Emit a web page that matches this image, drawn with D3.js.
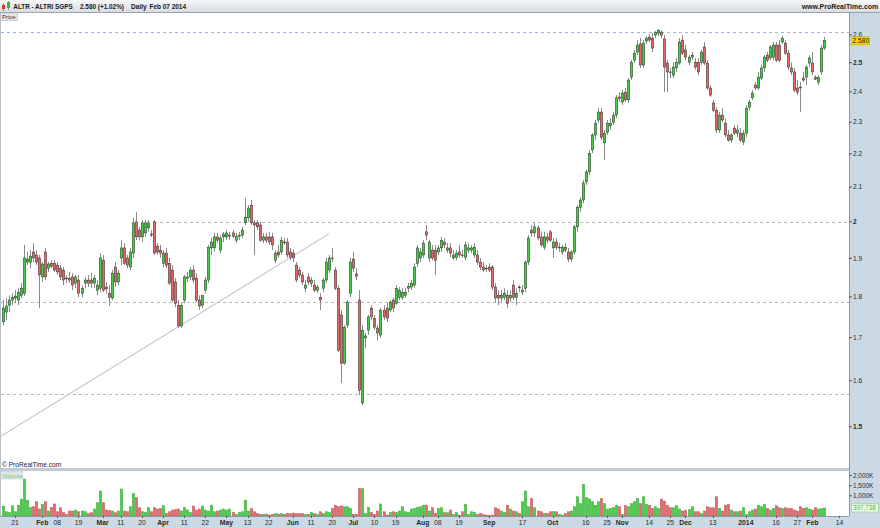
<!DOCTYPE html>
<html><head><meta charset="utf-8">
<script src="https://cdn.jsdelivr.net/npm/d3@7"></script>
<style>
html,body{margin:0;padding:0;background:#fff;}
svg{display:block;font-family:"Liberation Sans",Arial,sans-serif;}
</style></head><body>
<svg id="chart" width="880" height="528"></svg>
<script>
// ---------------- DATA ----------------
const firstDate = "2013-01-15";
const lastDate = "2014-02-07";
const holidays = ["2013-03-29","2013-04-01","2013-05-01","2013-12-25","2013-12-26","2014-01-01"];

const open = [
1.738,1.762,1.779,1.792,1.797,1.792,1.804,1.809,1.890,1.890,
1.917,1.909,1.901,1.851,1.917,1.874,1.887,1.887,1.882,1.874,
1.869,1.848,1.848,1.851,1.835,1.843,1.809,1.835,1.843,1.843,
1.835,1.817,1.822,1.895,1.825,1.809,1.797,1.877,1.838,1.901,
1.928,1.901,1.877,1.914,2.000,1.977,1.958,1.969,1.983,1.966,
2.000,1.933,1.922,1.887,1.914,1.887,1.869,1.838,1.779,1.728,
1.792,1.848,1.851,1.869,1.848,1.792,1.779,1.817,1.843,1.928,
1.928,1.958,1.922,1.958,1.958,1.960,1.969,1.949,1.960,1.963,
1.997,2.011,2.047,1.997,1.997,1.991,1.949,1.958,1.958,1.958,
1.895,1.917,1.917,1.944,1.944,1.917,1.914,1.882,1.869,1.856,
1.822,1.851,1.835,1.830,1.817,1.799,1.822,1.843,1.869,1.901,
1.869,1.822,1.755,1.640,1.730,1.809,1.898,1.859,1.792,1.551,
1.699,1.718,1.772,1.747,1.723,1.706,1.767,1.772,1.767,1.792,
1.784,1.799,1.799,1.804,1.822,1.825,1.830,1.887,1.901,1.909,
1.972,1.901,1.922,1.922,1.917,1.928,1.944,1.922,1.928,1.901,
1.903,1.917,1.909,1.903,1.922,1.922,1.909,1.909,1.890,1.877,
1.874,1.877,1.877,1.825,1.804,1.797,1.799,1.804,1.797,1.830,
1.799,1.825,1.812,1.822,1.890,1.977,1.969,1.983,1.958,1.930,
1.958,1.972,1.928,1.944,1.928,1.917,1.930,1.917,1.898,1.917,
1.986,2.041,2.062,2.115,2.145,2.212,2.259,2.307,2.333,2.234,
2.268,2.288,2.300,2.323,2.383,2.366,2.399,2.373,2.450,2.509,
2.538,2.567,2.492,2.577,2.592,2.588,2.599,2.606,2.610,2.585,
2.499,2.468,2.457,2.482,2.499,2.581,2.545,2.502,2.520,2.502,
2.502,2.502,2.556,2.499,2.413,2.363,2.339,2.275,2.323,2.297,
2.259,2.243,2.281,2.265,2.265,2.237,2.265,2.349,2.380,2.423,
2.413,2.447,2.482,2.527,2.517,2.520,2.563,2.563,2.574,2.570,
2.534,2.482,2.468,2.413,2.416,2.447,2.450,2.499,2.499,2.450,
2.433,2.468,2.552];

const high = [
1.792,1.797,1.804,1.809,1.817,1.822,1.835,1.936,1.917,1.922,
1.941,1.922,1.909,1.890,1.928,1.890,1.895,1.895,1.890,1.882,
1.877,1.856,1.864,1.861,1.856,1.856,1.830,1.851,1.856,1.861,
1.856,1.843,1.914,1.909,1.838,1.830,1.869,1.890,1.869,1.949,
1.941,1.909,1.928,2.011,2.027,1.986,2.005,2.005,2.005,1.977,
2.005,1.941,1.936,1.922,1.928,1.901,1.882,1.848,1.792,1.784,
1.856,1.864,1.877,1.882,1.861,1.804,1.797,1.851,1.936,1.955,
1.969,1.969,1.963,1.972,1.977,1.972,1.977,1.969,1.972,1.986,
2.068,2.047,2.062,2.005,2.005,2.000,1.969,1.969,1.972,1.969,
1.922,1.936,1.958,1.955,1.955,1.928,1.922,1.890,1.877,1.864,
1.843,1.861,1.851,1.843,1.830,1.809,1.848,1.901,1.909,1.928,
1.877,1.830,1.767,1.730,1.792,1.901,1.917,1.874,1.817,1.730,
1.711,1.755,1.779,1.755,1.730,1.772,1.779,1.784,1.792,1.799,
1.830,1.825,1.822,1.822,1.835,1.843,1.887,1.936,1.928,1.949,
1.991,1.949,1.936,1.936,1.936,1.958,1.955,1.941,1.941,1.922,
1.922,1.936,1.922,1.944,1.941,1.936,1.941,1.922,1.901,1.890,
1.882,1.887,1.882,1.835,1.817,1.817,1.822,1.817,1.817,1.843,
1.822,1.830,1.830,1.895,1.963,1.991,1.997,1.991,1.972,1.972,
1.969,1.977,1.955,1.955,1.941,1.936,1.941,1.928,1.922,1.991,
2.047,2.070,2.121,2.151,2.212,2.265,2.307,2.346,2.346,2.275,
2.307,2.313,2.333,2.389,2.399,2.406,2.413,2.447,2.509,2.545,
2.581,2.588,2.581,2.595,2.603,2.606,2.613,2.620,2.617,2.599,
2.509,2.482,2.502,2.517,2.588,2.599,2.563,2.527,2.538,2.517,
2.517,2.545,2.574,2.509,2.423,2.373,2.349,2.333,2.346,2.313,
2.275,2.265,2.291,2.291,2.281,2.275,2.356,2.373,2.406,2.433,
2.468,2.492,2.527,2.538,2.563,2.574,2.574,2.581,2.595,2.581,
2.545,2.502,2.482,2.440,2.433,2.468,2.492,2.527,2.538,2.457,
2.457,2.563,2.592];

const low = [
1.730,1.742,1.762,1.779,1.784,1.779,1.797,1.802,1.882,1.874,
1.890,1.882,1.772,1.838,1.843,1.864,1.874,1.864,1.856,1.843,
1.830,1.835,1.835,1.817,1.822,1.799,1.799,1.822,1.825,1.822,
1.822,1.804,1.812,1.812,1.809,1.777,1.792,1.825,1.830,1.882,
1.882,1.874,1.869,1.901,1.949,1.949,1.944,1.958,1.972,1.958,
1.909,1.909,1.901,1.877,1.874,1.830,1.787,1.774,1.723,1.723,
1.784,1.838,1.843,1.835,1.787,1.767,1.772,1.809,1.835,1.909,
1.917,1.941,1.914,1.944,1.949,1.949,1.955,1.941,1.949,1.955,
1.991,2.000,1.991,1.909,1.977,1.944,1.941,1.941,1.936,1.922,
1.887,1.901,1.909,1.936,1.901,1.895,1.890,1.838,1.848,1.830,
1.812,1.830,1.825,1.812,1.809,1.767,1.812,1.835,1.861,1.890,
1.817,1.666,1.595,1.636,1.723,1.799,1.864,1.843,1.568,1.546,
1.675,1.706,1.742,1.718,1.694,1.699,1.742,1.738,1.762,1.762,
1.779,1.792,1.792,1.797,1.812,1.817,1.822,1.877,1.890,1.901,
1.949,1.890,1.895,1.856,1.909,1.917,1.928,1.914,1.903,1.895,
1.895,1.901,1.901,1.895,1.914,1.914,1.901,1.882,1.869,1.864,
1.864,1.864,1.817,1.787,1.779,1.787,1.792,1.772,1.787,1.792,
1.779,1.812,1.804,1.812,1.882,1.958,1.958,1.949,1.930,1.922,
1.941,1.944,1.901,1.922,1.917,1.909,1.917,1.890,1.890,1.909,
1.972,2.027,2.053,2.106,2.135,2.202,2.243,2.297,2.243,2.181,
2.259,2.275,2.291,2.313,2.366,2.356,2.366,2.363,2.440,2.499,
2.527,2.482,2.482,2.567,2.574,2.538,2.588,2.595,2.588,2.399,
2.399,2.447,2.447,2.468,2.492,2.527,2.509,2.492,2.509,2.475,
2.457,2.492,2.492,2.406,2.383,2.333,2.265,2.265,2.300,2.252,
2.237,2.234,2.259,2.252,2.237,2.227,2.252,2.339,2.373,2.406,
2.406,2.440,2.468,2.502,2.509,2.509,2.502,2.502,2.567,2.527,
2.475,2.457,2.399,2.389,2.333,2.433,2.423,2.485,2.457,2.440,
2.423,2.457,2.545];

const close = [
1.772,1.777,1.792,1.799,1.802,1.812,1.822,1.901,1.898,1.906,
1.901,1.890,1.856,1.885,1.851,1.885,1.879,1.869,1.864,1.851,
1.843,1.847,1.843,1.830,1.851,1.809,1.822,1.843,1.835,1.835,
1.848,1.830,1.901,1.817,1.820,1.799,1.861,1.838,1.861,1.928,
1.887,1.882,1.917,1.997,1.958,1.958,1.997,1.997,1.997,1.963,
1.914,1.917,1.914,1.914,1.882,1.835,1.792,1.784,1.728,1.779,
1.851,1.851,1.869,1.843,1.792,1.777,1.804,1.843,1.930,1.944,
1.958,1.949,1.955,1.966,1.969,1.963,1.960,1.960,1.963,1.977,
2.013,2.039,1.997,1.991,1.986,1.949,1.958,1.949,1.944,1.936,
1.914,1.909,1.949,1.943,1.909,1.903,1.901,1.843,1.856,1.838,
1.830,1.838,1.843,1.817,1.825,1.792,1.843,1.890,1.901,1.900,
1.822,1.670,1.640,1.725,1.787,1.890,1.874,1.853,1.579,1.718,
1.704,1.750,1.750,1.725,1.711,1.767,1.750,1.747,1.787,1.772,
1.822,1.817,1.812,1.812,1.827,1.835,1.877,1.928,1.917,1.941,
1.963,1.944,1.901,1.895,1.928,1.949,1.936,1.928,1.914,1.909,
1.914,1.909,1.908,1.936,1.928,1.928,1.930,1.890,1.877,1.869,
1.873,1.869,1.825,1.797,1.797,1.804,1.809,1.784,1.804,1.799,
1.809,1.823,1.817,1.890,1.955,1.969,1.986,1.955,1.936,1.958,
1.949,1.949,1.944,1.930,1.930,1.930,1.922,1.898,1.917,1.986,
2.041,2.062,2.112,2.145,2.202,2.259,2.297,2.333,2.252,2.265,
2.297,2.297,2.323,2.380,2.377,2.396,2.373,2.440,2.502,2.534,
2.563,2.492,2.570,2.588,2.581,2.552,2.610,2.617,2.599,2.485,
2.468,2.467,2.485,2.502,2.574,2.534,2.520,2.520,2.527,2.485,
2.468,2.538,2.499,2.413,2.389,2.339,2.275,2.323,2.307,2.259,
2.243,2.259,2.265,2.275,2.243,2.265,2.346,2.366,2.396,2.413,
2.450,2.482,2.520,2.509,2.556,2.563,2.509,2.509,2.588,2.534,
2.485,2.468,2.406,2.399,2.413,2.440,2.485,2.517,2.468,2.443,
2.450,2.552,2.580];

// volume in thousands of shares
const volumeK = [
495,210,180,510,210,540,840,1830,790,430,
460,710,350,580,710,250,430,600,210,410,
180,80,250,250,300,210,250,210,130,160,
350,660,1240,660,300,270,250,160,250,1340,
250,210,460,1120,920,410,210,180,430,210,
410,350,380,510,130,210,300,320,350,250,
430,300,180,500,300,350,500,300,250,540,
210,250,300,350,300,350,180,80,180,210,
790,250,380,210,130,80,80,100,50,80,
120,100,130,90,130,110,150,120,130,130,
80,80,180,130,80,210,130,210,180,380,
540,460,500,460,460,380,80,80,1360,1360,
130,430,180,80,250,600,210,50,180,210,
180,250,460,210,180,350,380,430,460,540,
540,250,410,130,380,410,160,160,300,80,
180,50,210,580,80,210,180,80,130,80,
50,30,50,410,350,250,180,540,350,250,
210,130,710,1240,460,870,410,250,210,130,
130,210,210,210,80,50,130,210,250,460,
950,620,1570,910,850,710,540,710,870,620,
350,380,430,540,460,80,510,460,620,710,
870,620,950,580,540,380,460,380,840,740,
540,410,410,510,350,250,290,320,460,210,
210,130,250,460,410,410,950,380,250,540,
580,300,210,210,250,410,80,210,300,350,
540,460,580,380,300,380,510,410,380,410,
380,380,300,250,460,380,410,350,300,410,
350,380,397.738];

const priceTicks = [2.6,2.5,2.4,2.3,2.2,2.1,2,1.9,1.8,1.7,1.6,1.5];
const majorPriceTicks = [2.5,2,1.5];
const volumeTicksK = [2000,1500,1000];
const dateTicks = [
 ["2013-01-21","21"],["2013-02-01","Feb"],["2013-02-08","08"],["2013-02-19","19"],
 ["2013-03-01","Mar"],["2013-03-11","11"],["2013-03-20","20"],["2013-04-02","Apr"],
 ["2013-04-11","11"],["2013-04-22","22"],["2013-05-02","May"],["2013-05-13","13"],
 ["2013-05-22","22"],["2013-06-03","Jun"],["2013-06-11","11"],["2013-06-20","20"],
 ["2013-07-01","Jul"],["2013-07-10","10"],["2013-07-19","19"],["2013-08-01","Aug"],
 ["2013-08-08","08"],["2013-08-19","19"],["2013-09-02","Sep"],["2013-09-17","17"],
 ["2013-10-01","Oct"],["2013-10-16","16"],["2013-10-25","25"],["2013-11-01","Nov"],
 ["2013-11-14","14"],["2013-11-25","25"],["2013-12-02","Dec"],["2013-12-13","13"],
 ["2014-01-02","2014"],["2014-01-16","16"],["2014-01-27","27"],["2014-02-03","Feb"],
 ["2014-02-14","14"]];
const boldTickLabels = ["Feb","Mar","Apr","May","Jun","Jul","Aug","Sep","Oct","Nov","Dec","2014"];
// horizontal level lines: price, start date, kind
const levelPrices = [2.61, 2.0, 1.787, 1.57];
const levelStarts = ["2013-01-14","2013-03-26","2013-01-14","2013-01-14"];
const levelKinds  = ["blue","gray","gray","gray"];
// trend line endpoints
const trendDates = ["2013-01-14","2013-06-19"];
const trendPrices = [1.479, 1.967];

const titleText = "ALTR - ALTRI SGPS";
const lastText = "2.580 (+1.02%)";
const periodText = "Daily";
const dateText = "Feb 07 2014";
const siteText = "www.ProRealTime.com";

// ---------------- CALENDAR ----------------
function iso(d){return d.toISOString().slice(0,10);}
function buildCalendar(from, to){
  const out=[]; let d=new Date(from+"T00:00:00Z"); const end=new Date(to+"T00:00:00Z");
  while(d<=end){const wd=d.getUTCDay(); const s=iso(d);
    if(wd!==0 && wd!==6 && holidays.indexOf(s)<0) out.push(s);
    d=new Date(d.getTime()+86400000);}
  return out;
}
const cal = buildCalendar("2013-01-02","2014-03-31");
const base = cal.indexOf(firstDate);
function idxOf(s){return cal.indexOf(s)-base;}
const N = close.length;
const data = d3.range(N).map(i=>({i, o:open[i], h:high[i], l:low[i], c:close[i], v:volumeK[i]*1000}));

// ---------------- LAYOUT ----------------
const W=880, H=528;
const plotR = 849;
const priceTop = 12.5, priceBot = 468;
const volTop = 471, volBot = 516;
const axisBg = "#cbd9e4";
const green = "#46cc46", red = "#e26a6a";

const svg = d3.select("#chart");
const x = d3.scaleLinear().domain([0, idxOf(lastDate)]).range([3, 824.4]);
const y = d3.scaleLog().domain([1.4157, 2.625]).range([468, 28]);
const yv = d3.scaleLinear().domain([0, 2000000]).range([516, 475.6]);

// backgrounds
svg.append("rect").attr("x",0).attr("y",0).attr("width",W).attr("height",H).attr("fill","#fff");
svg.append("rect").attr("x",plotR).attr("y",priceTop).attr("width",W-plotR).attr("height",H-priceTop).attr("fill",axisBg);
svg.append("rect").attr("x",0).attr("y",volBot).attr("width",W).attr("height",H-volBot).attr("fill",axisBg);

// header
const defs = svg.append("defs");
const grad = defs.append("linearGradient").attr("id","hg").attr("x1",0).attr("x2",0).attr("y1",0).attr("y2",1);
grad.append("stop").attr("offset","0%").attr("stop-color","#f6f7f8");
grad.append("stop").attr("offset","100%").attr("stop-color","#d9dde1");
svg.append("rect").attr("x",0).attr("y",0).attr("width",W).attr("height",12).attr("fill","url(#hg)");
svg.append("line").attr("x1",0).attr("x2",W).attr("y1",12.5).attr("y2",12.5).attr("stroke","#9aa3ab");
svg.append("line").attr("x1",3.5).attr("x2",3.5).attr("y1",3).attr("y2",11).attr("stroke","#666").attr("stroke-width",0.6);
svg.append("rect").attr("x",2).attr("y",5).attr("width",3).attr("height",4).attr("fill","#e03030");
svg.append("line").attr("x1",8.5).attr("x2",8.5).attr("y1",1).attr("y2",10).attr("stroke","#666").attr("stroke-width",0.6);
svg.append("rect").attr("x",7).attr("y",2).attr("width",3).attr("height",6).attr("fill","#30c030");
const ht = svg.append("g").attr("font-size",7).attr("font-weight","bold").attr("fill","#1a1a1a");
function htext(tx, x0, len, anchor){
  const t = ht.append("text").attr("x",x0).attr("y",9).attr("textLength",len).attr("lengthAdjust","spacingAndGlyphs").text(tx);
  if(anchor) t.attr("text-anchor",anchor);
}
htext(titleText, 13.3, 59.4);
htext(lastText, 80, 44);
htext(periodText, 131, 15.7);
htext(dateText, 149.5, 36.5);
htext(siteText, 801.7, 76.6);

// panel borders
svg.append("line").attr("x1",plotR+0.5).attr("x2",plotR+0.5).attr("y1",priceTop).attr("y2",volBot).attr("stroke","#8c98a2");
svg.append("line").attr("x1",0.5).attr("x2",0.5).attr("y1",priceTop).attr("y2",volBot).attr("stroke","#b8c0c8");
svg.append("rect").attr("x",0).attr("y",468).attr("width",plotR).attr("height",3).attr("fill","#c3cbd2");
svg.append("line").attr("x1",0).attr("x2",plotR).attr("y1",volBot+0.5).attr("y2",volBot+0.5).attr("stroke","#8c98a2");

// clip
defs.append("clipPath").attr("id","pc").append("rect").attr("x",1).attr("y",priceTop+0.5).attr("width",plotR-1).attr("height",priceBot-priceTop-0.5);
defs.append("clipPath").attr("id","vc").append("rect").attr("x",1).attr("y",volTop).attr("width",plotR-1).attr("height",volBot-volTop);

const pg = svg.append("g").attr("clip-path","url(#pc)");
// level lines
levelPrices.forEach((p,k)=>{
  pg.append("line").attr("x1",Math.max(1,x(idxOf(levelStarts[k])))).attr("x2",plotR)
    .attr("y1",Math.round(y(p))+0.5).attr("y2",Math.round(y(p))+0.5)
    .attr("stroke",levelKinds[k]==="blue"?"#9db3e6":"#b4b4b4").attr("stroke-width",1).attr("stroke-dasharray","3,3");
});
// trend line
pg.append("line").attr("x1",x(idxOf(trendDates[0]))).attr("y1",y(trendPrices[0]))
  .attr("x2",x(idxOf(trendDates[1]))).attr("y2",y(trendPrices[1]))
  .attr("stroke","#c4c4c4").attr("stroke-width",1.1);

// candles
const cg = pg.append("g");
cg.selectAll("line.w").data(data).enter().append("line")
  .attr("x1",d=>Math.round(x(d.i))+0.5).attr("x2",d=>Math.round(x(d.i))+0.5)
  .attr("y1",d=>y(d.h)).attr("y2",d=>y(d.l)).attr("stroke","#8a8a8a").attr("stroke-width",1);
cg.selectAll("rect.b").data(data).enter().append("rect")
  .attr("x",d=>Math.round(x(d.i))-0.7).attr("width",2.4)
  .attr("y",d=>y(Math.max(d.o,d.c)))
  .attr("height",d=>Math.max(0.8,Math.abs(y(d.o)-y(d.c))))
  .attr("fill",d=>d.c>=d.o?green:red).attr("stroke","#1e1e1e").attr("stroke-width",0.45);

// price axis
const pa = svg.append("g").attr("font-size",6.6).attr("fill","#2a2a2a");
priceTicks.forEach(t=>{
  const yy=y(t);
  pa.append("line").attr("x1",plotR).attr("x2",plotR+3).attr("y1",yy).attr("y2",yy).attr("stroke","#555");
  pa.append("text").attr("x",plotR+4).attr("y",yy+2.3).attr("font-weight",majorPriceTicks.indexOf(t)>=0?"bold":"normal").text(String(t));
});
// last price tag
const lastY = y(close[N-1]);
svg.append("rect").attr("x",851.5).attr("y",lastY-3.5).attr("width",18).attr("height",8).attr("fill","#f5d90a").attr("stroke","#c9a900").attr("stroke-width",0.6);
svg.append("text").attr("x",852.6).attr("y",lastY+2.9).attr("font-size",6.6).attr("fill","#111").text(close[N-1].toFixed(3));

// labels
svg.append("rect").attr("x",0.5).attr("y",13).attr("width",17).attr("height",7.5).attr("fill","#e6e8ea").attr("stroke","#aeb6bd").attr("stroke-width",0.6);
svg.append("text").attr("x",2).attr("y",19).attr("font-size",6).attr("fill","#333").text("Price");
svg.append("text").attr("x",2).attr("y",466.5).attr("font-size",6.6).attr("fill","#222").text("\u00a9 ProRealTime.com");

// volume
const vg = svg.append("g").attr("clip-path","url(#vc)");
vg.selectAll("rect").data(data).enter().append("rect")
  .attr("x",d=>Math.round(x(d.i))-0.7).attr("width",2.4)
  .attr("y",d=>yv(d.v)).attr("height",d=>yv(0)-yv(d.v))
  .attr("fill",d=>d.c>=d.o?green:red).attr("stroke",d=>d.c>=d.o?"#2e9a2e":"#b04848").attr("stroke-width",0.35);
svg.append("rect").attr("x",0.5).attr("y",471.5).attr("width",22).attr("height",7.5).attr("fill","#dfe6ea").attr("stroke","#b8c2c8").attr("stroke-width",0.5);
svg.append("text").attr("x",2).attr("y",477.5).attr("font-size",6.2).attr("fill","#6ccf6c").text("Volume");
const va = svg.append("g").attr("font-size",6.4).attr("fill","#2a2a2a");
volumeTicksK.forEach(t=>{
  const yy=yv(t*1000);
  va.append("line").attr("x1",plotR).attr("x2",plotR+3).attr("y1",yy).attr("y2",yy).attr("stroke","#555");
  va.append("text").attr("x",plotR+4).attr("y",yy+2.2).text(d3.format(",")(t)+"K");
});
const lastV = volumeK[N-1]*1000;
const lvY = yv(lastV);
svg.append("rect").attr("x",851.5).attr("y",lvY-4).attr("width",27).attr("height",8).attr("fill","#effbef").attr("stroke","#86d086").attr("stroke-width",0.6);
svg.append("text").attr("x",853).attr("y",lvY+2.3).attr("font-size",6.3).attr("fill","#3cb83c").text(d3.format(",")(Math.round(lastV)));

// date axis
const da = svg.append("g").attr("font-size",6.8).attr("fill","#2a2a2a");
dateTicks.forEach(([ds,lab])=>{
  const xx = x(idxOf(ds));
  da.append("line").attr("x1",Math.round(xx)+0.5).attr("x2",Math.round(xx)+0.5).attr("y1",volBot).attr("y2",volBot+2).attr("stroke","#555");
  da.append("text").attr("x",xx).attr("y",525).attr("text-anchor","middle")
    .attr("font-weight",boldTickLabels.indexOf(lab)>=0?"bold":"normal").text(lab);
});
</script>
</body></html>
